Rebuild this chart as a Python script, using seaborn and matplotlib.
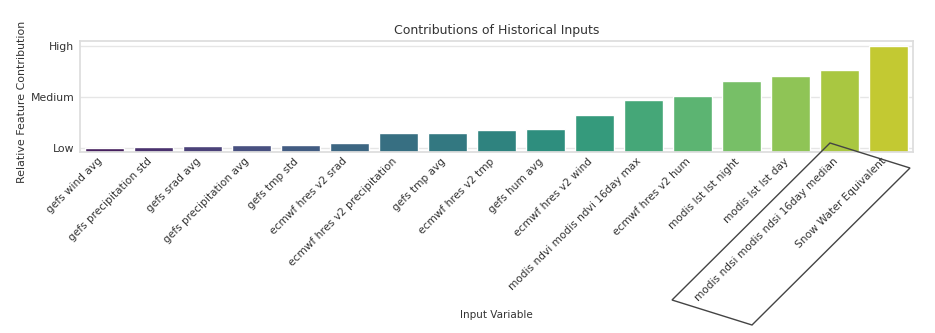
import matplotlib
matplotlib.use("Agg")
import matplotlib.pyplot as plt
import seaborn as sns
import pandas as pd
from matplotlib.patches import Polygon

variables = [
    "gefs wind avg", "gefs precipitation std", "gefs srad avg", "gefs precipitation avg",
    "gefs tmp std", "ecmwf hres v2 srad", "ecmwf hres v2 precipitation", "gefs tmp avg",
    "ecmwf hres v2 tmp", "gefs hum avg", "ecmwf hres v2 wind",
    "modis ndvi modis ndvi 16day max", "ecmwf hres v2 hum", "modis lst lst night",
    "modis lst lst day", "modis ndsi modis ndsi 16day median", "Snow Water Equivalent",
]
contribution = [0.041, 0.050, 0.057, 0.066, 0.068, 0.083, 0.178, 0.178, 0.209, 0.216,
                0.351, 0.494, 0.525, 0.671, 0.722, 0.772, 1.0]
tick_labels = ["Low", "Medium", "High"]

df = pd.DataFrame({"Input Variable": variables, "Contribution": contribution})

sns.set_theme(style="whitegrid")
plt.rcParams["font.family"] = ["DejaVu Sans"]

fig = plt.figure(figsize=(9.35, 3.33), dpi=100)
ax = fig.add_axes([80 / 935, 1 - 152 / 333, (913 - 80) / 935, (152 - 41) / 333])

sns.barplot(data=df, x="Input Variable", y="Contribution", hue="Input Variable",
            palette="viridis", legend=False, ax=ax, width=0.78)

lo, hi = min(contribution), max(contribution)
ax.set_yticks([lo, (lo + hi) / 2, hi])
ax.set_yticklabels(tick_labels, fontsize=7.8, color="#333333")
ax.set_ylim(0, hi * 1.05)
ax.set_xticks(range(len(variables)))
ax.set_xticklabels(variables, rotation=45, ha="right", fontsize=7.6, color="#333333")
ax.tick_params(axis="x", length=0, pad=3)
ax.tick_params(axis="y", length=0, pad=4)
ax.set_title("Contributions of Historical Inputs", fontsize=9, color="#333333", pad=5)
ax.set_xlabel("Input Variable", fontsize=7.5, color="#333333")
ax.set_ylabel("Relative Feature Contribution", fontsize=7.9, color="#333333")
ax.xaxis.set_label_coords(0.5, -1.42)
ax.yaxis.set_label_coords(-0.064, 0.45)
for s in ax.spines.values():
    s.set_color("#dddddd")
ax.grid(axis="y", color="#e6e6e6", linewidth=1)

pts = [(830, 143), (910, 168), (752, 325), (672, 300)]
poly = Polygon([(x / 935, 1 - y / 333) for x, y in pts], closed=True, fill=False,
               edgecolor="#444444", linewidth=1.0, transform=fig.transFigure, clip_on=False)
fig.patches.append(poly)

fig.savefig("out.png", dpi=100)
